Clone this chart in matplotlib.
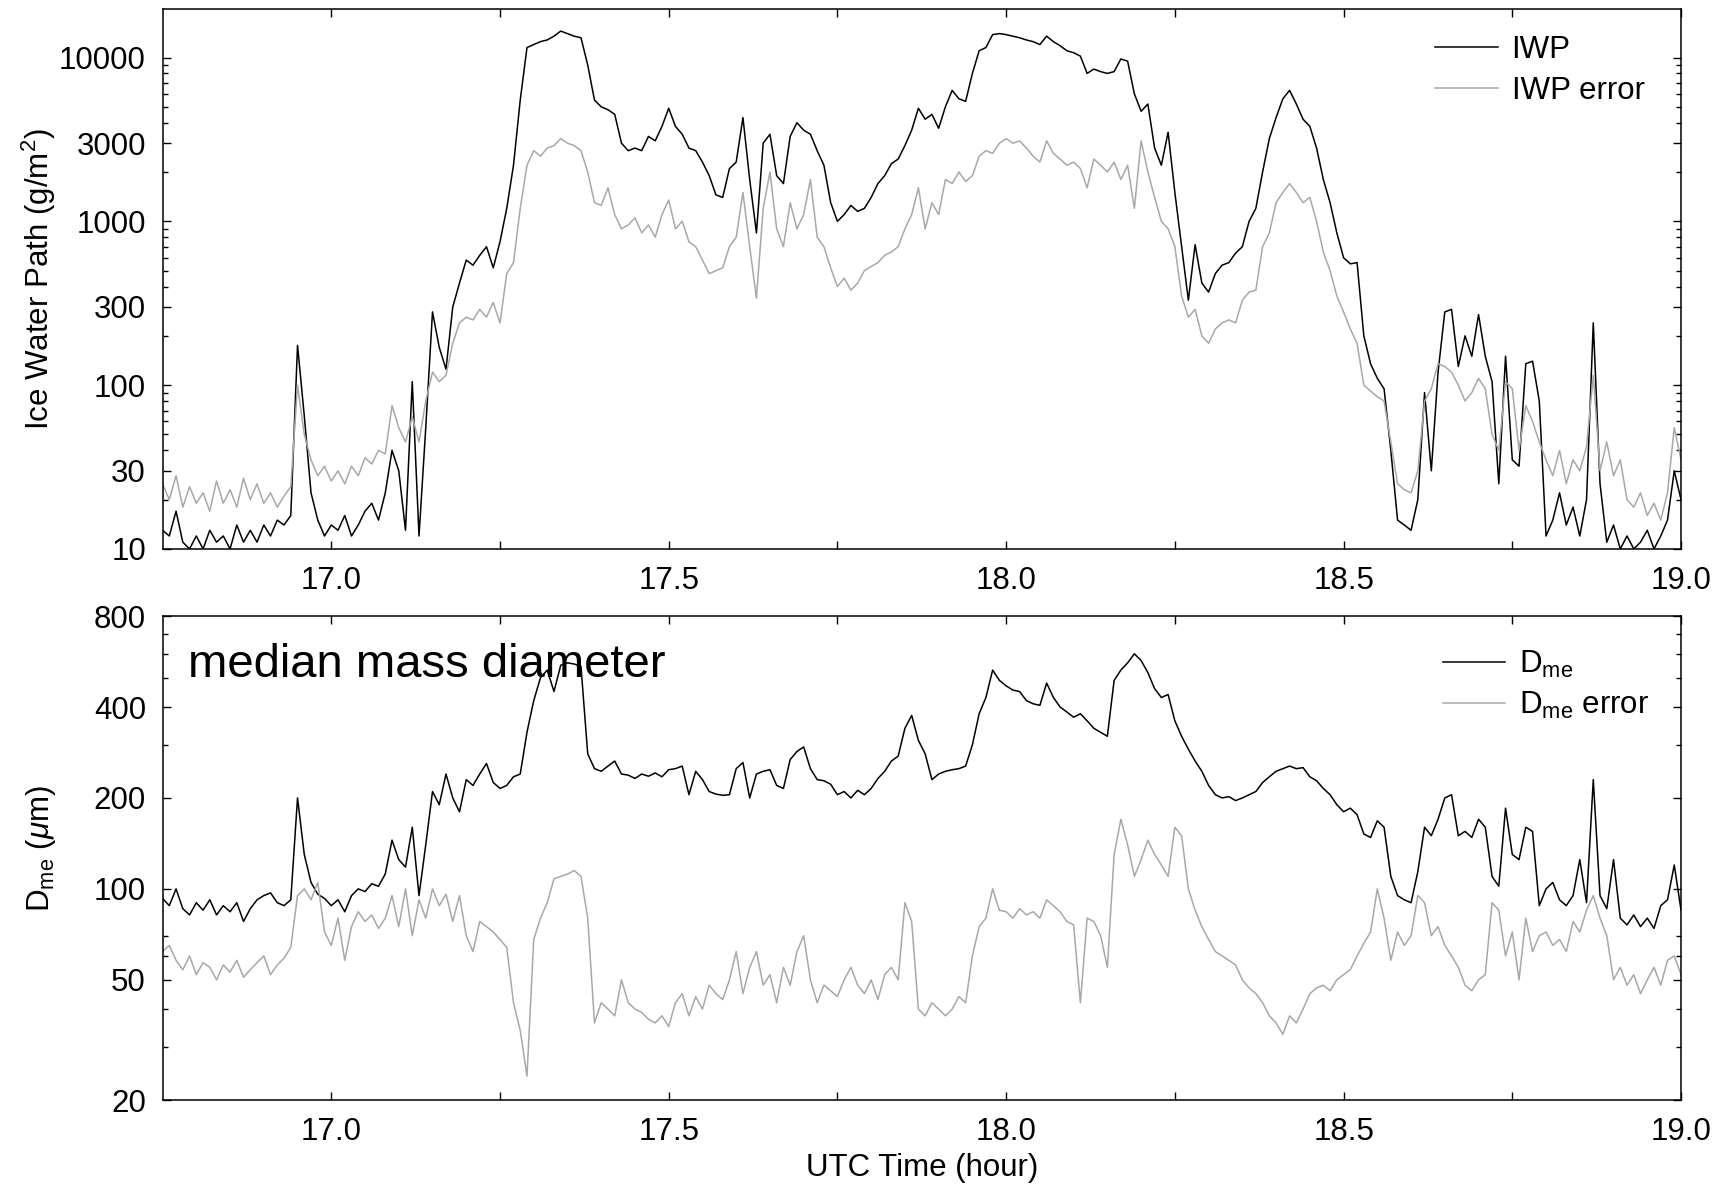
"""Ice water path and median mass diameter time series, two log panels."""
import numpy as np
import matplotlib
matplotlib.use("Agg")
import matplotlib.pyplot as plt
from matplotlib.ticker import FixedLocator, FixedFormatter, NullFormatter

plt.rcParams["font.family"] = ["Liberation Sans", "DejaVu Sans"]
plt.rcParams["mathtext.fontset"] = "custom"
plt.rcParams["mathtext.rm"] = "Liberation Sans"
plt.rcParams["mathtext.it"] = "Liberation Sans:italic"

# samples every 0.01 h starting at 16.75 UTC
T0 = 16.75
DT = 0.01

iwp = [
    13, 12, 17, 11, 10, 12, 10, 13, 11, 12,
    10, 14, 11, 13, 11, 14, 12, 15, 14, 16,
    175, 65, 22, 15, 12, 14, 13, 16, 12, 14,
    17, 19, 15, 22, 40, 30, 13, 105, 12, 55,
    280, 170, 125, 300, 420, 580, 540, 620, 700, 520,
    750, 1200, 2200, 5500, 11500, 12000, 12500, 12800, 13500, 14500,
    14000, 13500, 13200, 9000, 5500, 5000, 4800, 4500, 3000, 2700,
    2800, 2700, 3300, 3100, 3800, 4900, 3800, 3400, 2800, 2700,
    2300, 1900, 1450, 1400, 2100, 2300, 4300, 1800, 850, 3000,
    3400, 1900, 1700, 3300, 4000, 3600, 3400, 2700, 2200, 1300,
    1000, 1100, 1250, 1150, 1200, 1400, 1700, 1900, 2250, 2400,
    2900, 3600, 4900, 4200, 4500, 3700, 5000, 6300, 5600, 5400,
    8000, 11000, 11500, 13800, 14000, 13800, 13500, 13200, 12800, 12500,
    12000, 13500, 12500, 11800, 11000, 10700, 10200, 8000, 8500, 8200,
    8000, 8200, 9800, 9500, 6000, 4700, 5200, 2800, 2200, 3500,
    1500, 700, 330, 720, 420, 370, 480, 540, 560, 640,
    700, 1000, 1200, 2000, 3200, 4300, 5600, 6300, 5200, 4200,
    3800, 2800, 1800, 1300, 850, 600, 550, 560, 200, 135,
    110, 95, 40, 15, 14, 13, 20, 90, 30, 120,
    280, 290, 130, 200, 150, 270, 150, 105, 25, 150,
    35, 32, 135, 140, 80, 12, 15, 22, 14, 18,
    12, 20, 240, 25, 11, 14, 10, 12, 10, 11,
    13, 10, 12, 15, 30, 20,
]

iwp_err = [
    25, 20, 28, 18, 24, 19, 22, 17, 26, 19,
    23, 18, 27, 20, 25, 19, 22, 18, 21, 24,
    100, 50, 35, 28, 32, 26, 30, 25, 32, 28,
    36, 33, 40, 38, 75, 55, 45, 64, 45, 80,
    120, 105, 115, 180, 240, 260, 250, 290, 260, 320,
    240, 480, 560, 1200, 2200, 2700, 2500, 2800, 2900, 3200,
    3000, 2900, 2700, 2000, 1300, 1250, 1600, 1100, 900, 950,
    1050, 850, 950, 800, 1100, 1350, 900, 1000, 750, 700,
    580, 480, 500, 520, 700, 800, 1500, 700, 340, 1200,
    2000, 900, 700, 1300, 900, 1100, 1800, 800, 700, 520,
    400, 450, 380, 420, 500, 530, 560, 620, 650, 700,
    900, 1100, 1600, 900, 1300, 1100, 1800, 1700, 2000, 1750,
    1900, 2500, 2700, 2600, 3000, 3200, 3000, 3100, 2800, 2500,
    2300, 3100, 2600, 2400, 2200, 2300, 2100, 1600, 2400, 2200,
    2000, 2300, 1800, 2200, 1200, 3100, 2000, 1400, 1000, 900,
    700, 350, 260, 290, 200, 180, 220, 240, 250, 240,
    330, 370, 380, 700, 850, 1300, 1500, 1700, 1500, 1300,
    1400, 1000, 650, 500, 350, 280, 220, 180, 100, 92,
    85, 80, 45, 25, 23, 22, 30, 80, 95, 135,
    130, 120, 100, 80, 90, 110, 95, 50, 40, 105,
    95, 40, 75, 60, 45, 35, 28, 40, 25, 35,
    30, 42, 115, 30, 45, 28, 35, 20, 18, 22,
    16, 19, 15, 22, 55, 35,
]

dme = [
    93, 88, 100, 86, 82, 90, 85, 92, 82, 88,
    84, 90, 78, 86, 92, 95, 97, 90, 88, 92,
    200, 130, 105, 96, 93, 88, 92, 84, 95, 100,
    98, 104, 102, 112, 145, 125, 118, 160, 95, 140,
    210, 190, 240, 200, 180, 230, 220, 240, 260, 225,
    215, 220, 235, 240, 330, 420, 500, 530, 450, 550,
    560, 555, 545, 280, 250, 245, 255, 265, 240, 238,
    232, 240, 236, 242, 235, 248, 250, 255, 205, 245,
    230, 210, 206, 204, 205, 250, 262, 200, 240, 245,
    248, 220, 215, 268, 285, 295, 250, 230, 228, 222,
    205, 210, 200, 212, 205, 215, 232, 245, 265, 275,
    340, 375, 310, 280, 230, 240, 245, 248, 250, 255,
    300, 380, 430, 530, 490, 470, 455, 450, 420, 410,
    405, 480, 430, 400, 385, 370, 380, 360, 340, 330,
    320, 490, 530, 560, 600, 570, 520, 460, 430, 440,
    360, 320, 290, 265, 245, 220, 205, 200, 202, 196,
    200, 205, 210, 225, 235, 245, 250, 255, 250, 252,
    235, 228, 215, 205, 190, 180, 185, 176, 152, 148,
    168, 160, 110, 95, 92, 90, 114, 160, 150, 170,
    200, 205, 150, 155, 148, 170, 160, 110, 102, 185,
    130, 125, 160, 155, 88, 100, 105, 92, 88, 95,
    125, 90, 230, 95, 86, 125, 80, 76, 82, 75,
    80, 74, 88, 92, 120, 85,
]

dme_err = [
    62, 65, 58, 54, 60, 52, 57, 55, 50, 56,
    53, 58, 51, 54, 57, 60, 52, 56, 59, 64,
    95, 100, 92, 105, 72, 65, 80, 58, 75, 84,
    78, 82, 74, 80, 95, 75, 100, 70, 92, 80,
    100, 88, 96, 78, 95, 70, 62, 78, 75, 72,
    68, 64, 42, 34, 24, 68, 80, 90, 108, 110,
    112, 115, 110, 80, 36, 42, 40, 38, 50, 42,
    40, 39, 37, 36, 38, 35, 42, 45, 38, 44,
    40, 48, 45, 43, 50, 62, 45, 55, 62, 48,
    52, 42, 55, 48, 62, 70, 50, 42, 48, 46,
    44, 50, 55, 48, 45, 50, 43, 52, 55, 50,
    90, 78, 40, 38, 42, 40, 38, 40, 44, 42,
    60, 75, 80, 100, 85, 84, 80, 86, 82, 84,
    80, 92, 88, 84, 78, 76, 42, 80, 78, 70,
    55, 130, 170, 140, 110, 125, 145, 130, 120, 110,
    160, 150, 100, 85, 75, 68, 62, 60, 58, 56,
    50, 47, 45, 42, 38, 36, 33, 38, 36, 40,
    45, 47, 48, 46, 50, 52, 54, 60, 66, 72,
    100, 80, 58, 72, 65, 70, 95, 90, 70, 75,
    65, 60, 55, 48, 46, 50, 52, 90, 85, 60,
    72, 50, 80, 62, 70, 72, 65, 68, 62, 78,
    72, 85, 95, 80, 70, 50, 55, 48, 52, 45,
    50, 55, 48, 58, 60, 52,
]

x_ticks = [17.0, 17.25, 17.5, 17.75, 18.0, 18.25, 18.5, 18.75, 19.0]
x_labels = ["17.0", "", "17.5", "", "18.0", "", "18.5", "", "19.0"]
iwp_ticks = [10, 30, 100, 300, 1000, 3000, 10000]
iwp_minor = [20, 40, 50, 60, 70, 80, 90, 200, 400, 500, 600, 700, 800, 900,
             2000, 4000, 5000, 6000, 7000, 8000, 9000]
dme_ticks = [20, 50, 100, 200, 400, 800]
dme_minor = [30, 40, 60, 70, 300, 500, 600, 700]

FS = 22.5
GRAY = "#a8a8a8"


def style_axes(ax, yticks, yminor):
    ax.set_xlim(16.75, 19.0)
    ax.set_yscale("log")
    ax.xaxis.set_major_locator(FixedLocator(x_ticks))
    ax.xaxis.set_major_formatter(FixedFormatter(x_labels))
    ax.xaxis.set_minor_locator(FixedLocator([]))
    ax.yaxis.set_major_locator(FixedLocator(yticks))
    ax.yaxis.set_major_formatter(FixedFormatter([str(v) for v in yticks]))
    ax.yaxis.set_minor_locator(FixedLocator(yminor))
    ax.yaxis.set_minor_formatter(NullFormatter())
    ax.tick_params(which="both", direction="in", top=True, right=True,
                   labelsize=FS, width=1.0)
    ax.tick_params(which="major", length=6, pad=12)
    ax.tick_params(which="minor", length=3.5)
    for sp in ax.spines.values():
        sp.set_linewidth(1.1)


def main() -> None:
    t = T0 + DT * np.arange(len(iwp))

    fig = plt.figure(figsize=(17.33, 11.90), dpi=100)
    ax1 = fig.add_axes([0.0938, 0.5387, 0.8762, 0.4538])
    ax2 = fig.add_axes([0.0938, 0.0756, 0.8762, 0.4067])

    ax1.plot(t, iwp, color="black", lw=1.1, label="IWP")
    ax1.plot(t, iwp_err, color=GRAY, lw=1.1, label="IWP error")
    style_axes(ax1, iwp_ticks, iwp_minor)
    ax1.set_ylim(10, 19800)
    ax1.set_ylabel("Ice Water Path (g/m$^2$)", fontsize=FS)
    ax1.yaxis.set_label_coords(-0.069, 0.5)
    ax1.legend(loc="upper left", bbox_to_anchor=(0.838, 0.951), frameon=False,
               fontsize=FS, handlelength=2.0, handletextpad=0.45,
               labelspacing=0.33, borderpad=0, borderaxespad=0)

    ax2.plot(t, dme, color="black", lw=1.1, label=r"$\mathregular{D_{me}}$")
    ax2.plot(t, dme_err, color=GRAY, lw=1.1,
             label=r"$\mathregular{D_{me}}$ error")
    style_axes(ax2, dme_ticks, dme_minor)
    ax2.set_ylim(20, 800)
    ax2.set_ylabel(r"$\mathregular{D_{me}}$ ($\mu$m)", fontsize=FS)
    ax2.yaxis.set_label_coords(-0.069, 0.52)
    ax2.set_xlabel("UTC Time (hour)", fontsize=FS)
    ax2.xaxis.set_label_coords(0.5, -0.11)
    ax2.text(0.0168, 0.875, "median mass diameter", transform=ax2.transAxes,
             fontsize=34, ha="left", va="baseline")
    ax2.legend(loc="upper left", bbox_to_anchor=(0.843, 0.933), frameon=False,
               fontsize=FS, handlelength=2.0, handletextpad=0.45,
               labelspacing=0.32, borderpad=0, borderaxespad=0)

    fig.savefig("out.png", dpi=100)
    plt.close(fig)


if __name__ == "__main__":
    main()
